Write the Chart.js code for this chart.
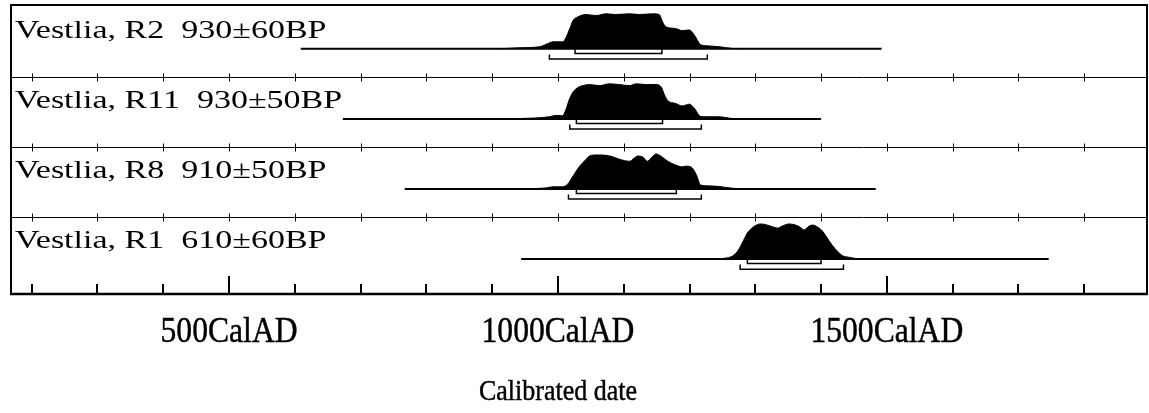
<!DOCTYPE html>
<html>
<head>
<meta charset="utf-8">
<script src="https://cdn.jsdelivr.net/npm/chart.js@4.4.1/dist/chart.umd.min.js"></script>
<style>
  html, body { margin: 0; padding: 0; background: #fff; }
  #wrap { width: 1149px; height: 413px; }
</style>
</head>
<body>
<div id="wrap"><canvas id="chart"></canvas></div>
<script>
// Calibrated radiocarbon dates from Vestlia (years AD)
const sampleNames = ['Vestlia, R2  930±60BP', 'Vestlia, R11  930±50BP', 'Vestlia, R8  910±50BP', 'Vestlia, R1  610±60BP'];

const r2Years = [910, 942, 972, 987, 992, 1007, 1012, 1018, 1023, 1030, 1043, 1058, 1073, 1088, 1109, 1124, 1144, 1154, 1159, 1164, 1179, 1189, 1200, 1207, 1217, 1225, 1245, 1265, 1280];
const r2Prob  = [0, .03, .06, .17, .2, .2, .31, .58, .81, .91, .98, .95, 1, .98, 1, .98, 1, .98, .77, .63, .58, .52, .54, .4, .12, .09, .06, .01, 0];

const r11Years = [910, 942, 987, 997, 1007, 1012, 1017, 1023, 1030, 1038, 1048, 1063, 1078, 1093, 1109, 1119, 1134, 1149, 1157, 1162, 1167, 1179, 1189, 1200, 1207, 1217, 1225, 1245, 1265, 1285];
const r11Prob  = [0, .01, .06, .1, .09, .26, .54, .77, .89, .95, .98, .95, 1, .98, .95, 1, .98, .98, .91, .68, .52, .44, .37, .42, .31, .07, .06, .06, .01, 0];

const r8Years = [942, 982, 992, 1007, 1015, 1023, 1033, 1043, 1048, 1058, 1073, 1081, 1093, 1109, 1116, 1121, 1129, 1136, 1144, 1149, 1157, 1167, 1179, 1189, 1194, 1202, 1210, 1217, 1225, 1245, 1265, 1285];
const r8Prob  = [0, .03, .06, .06, .14, .37, .65, .85, .94, .97, .96, .93, .85, .79, .88, .94, .91, .79, .93, 1, .93, .79, .68, .63, .65, .63, .42, .11, .09, .07, .02, 0];

const r1Years = [1245, 1253, 1265, 1273, 1280, 1288, 1296, 1303, 1308, 1316, 1326, 1334, 1341, 1351, 1361, 1369, 1374, 1382, 1387, 1394, 1402, 1409, 1417, 1425, 1432, 1442, 1455, 1465];
const r1Prob  = [0, .02, .08, .22, .45, .74, .9, .98, 1, .98, .92, .88, .94, 1, .97, .9, .83, .94, .97, .92, .8, .61, .39, .22, .1, .05, .01, 0];

const rangeStart = [609, 673, 767, 944];
const rangeEnd   = [1492, 1400, 1483, 1746];
const sigma1From = [1026, 1028, 1028, 1288];
const sigma1To   = [1158, 1159, 1180, 1400];
const sigma2From = [987, 1018, 1016, 1277];
const sigma2To   = [1227, 1218, 1218, 1434];

const tickYears  = [200, 300, 400, 500, 600, 700, 800, 900, 1000, 1100, 1200, 1300, 1400, 1500, 1600, 1700, 1800];
const labelYears = [500, 1000, 1500];
const axisTitle  = 'Calibrated date';

const allYears = [r2Years, r11Years, r8Years, r1Years];
const allProb  = [r2Prob, r11Prob, r8Prob, r1Prob];

const SERIF = '"Liberation Serif", "Times New Roman", serif';
const PEAK = 0.5;     // height of a full-probability peak, in panel units
const nPanels = sampleNames.length;
const baseOf = k => (nPanels - 1 - k) + 0.4;

const datasets = [];
sampleNames.forEach((name, k) => {
    const b = baseOf(k);
    datasets.push({
        label: name,
        data: allYears[k].map((yr, i) => ({ x: yr, y: b + PEAK * allProb[k][i] })),
        borderColor: '#000',
        backgroundColor: '#000',
        borderWidth: 1,
        pointRadius: 0,
        cubicInterpolationMode: 'monotone',
        fill: { value: b }
    });
    datasets.push({
        data: [{ x: rangeStart[k], y: b }, { x: rangeEnd[k], y: b }],
        borderColor: '#000',
        borderWidth: 2,
        pointRadius: 0
    });
    datasets.push({
        data: [
            { x: sigma1From[k], y: b }, { x: sigma1From[k], y: b - 0.065 },
            { x: sigma1To[k], y: b - 0.065 }, { x: sigma1To[k], y: b }
        ],
        borderColor: '#000',
        borderWidth: 1.5,
        pointRadius: 0
    });
    datasets.push({
        data: [
            { x: sigma2From[k], y: b - 0.08 }, { x: sigma2From[k], y: b - 0.145 },
            { x: sigma2To[k], y: b - 0.145 }, { x: sigma2To[k], y: b - 0.08 }
        ],
        borderColor: '#000',
        borderWidth: 1.5,
        pointRadius: 0
    });
});

// text drawn a little stretched, like the scanned original
function scanText(ctx, str, px, py, sx, sy, weight) {
    ctx.save();
    ctx.translate(px, py);
    ctx.scale(sx, sy);
    ctx.fillText(str, 0, 0);
    if (weight) {
        ctx.lineWidth = weight;
        ctx.strokeText(str, 0, 0);
    }
    ctx.restore();
}

// frame, panel separators with century ticks, sample names and axis labels
const oxcalFrame = {
    id: 'oxcalFrame',
    afterDatasetsDraw(chart) {
        const { ctx, chartArea: a, scales: { x, y } } = chart;
        ctx.save();
        ctx.strokeStyle = '#000';
        ctx.fillStyle = '#000';

        // separators between panels
        ctx.lineWidth = 1;
        for (let s = 1; s < nPanels; s++) {
            const py = Math.round(y.getPixelForValue(s)) + 0.5;
            ctx.beginPath();
            ctx.moveTo(a.left, py);
            ctx.lineTo(a.right, py);
            ctx.stroke();
            tickYears.forEach(t => {
                const px = Math.round(x.getPixelForValue(t)) + 0.5;
                ctx.beginPath();
                ctx.moveTo(px, py - 4);
                ctx.lineTo(px, py + 4);
                ctx.stroke();
            });
        }

        // bottom axis ticks pointing up
        ctx.lineWidth = 2;
        tickYears.forEach(t => {
            const px = Math.round(x.getPixelForValue(t));
            const len = labelYears.includes(t) ? 18 : 10;
            ctx.beginPath();
            ctx.moveTo(px, a.bottom);
            ctx.lineTo(px, a.bottom - len);
            ctx.stroke();
        });

        // frame
        ctx.lineWidth = 2;
        ctx.strokeRect(a.left + 1, a.top + 1, a.right - a.left - 2, a.bottom - a.top - 1);
        ctx.lineWidth = 2.5;
        ctx.beginPath();
        ctx.moveTo(a.left, a.bottom);
        ctx.lineTo(a.right, a.bottom);
        ctx.stroke();

        // sample names
        ctx.font = '25px ' + SERIF;
        ctx.textBaseline = 'alphabetic';
        sampleNames.forEach((name, k) => {
            scanText(ctx, name, a.left + 5, y.getPixelForValue(baseOf(k) + 0.16), 1.36, 1, 0);
        });

        // axis labels and title, the title centred under the 1000 mark
        ctx.textAlign = 'center';
        ctx.font = '31px ' + SERIF;
        labelYears.forEach(v => {
            scanText(ctx, v + 'CalAD', x.getPixelForValue(v), a.bottom + 48, 1.02, 1.14, 0.4);
        });
        ctx.font = '26px ' + SERIF;
        scanText(ctx, axisTitle, x.getPixelForValue(1000), a.bottom + 106, 1, 1.15, 0.4);
        ctx.restore();
    }
};

new Chart(document.getElementById('chart'), {
    type: 'line',
    data: { datasets },
    options: {
        responsive: true,
        maintainAspectRatio: false,
        animation: false,
        layout: { padding: { left: 10, right: 1, top: 4, bottom: 0 } },
        plugins: {
            legend: { display: false },
            tooltip: { enabled: false }
        },
        scales: {
            x: {
                type: 'linear',
                min: 167,
                max: 1897,
                grid: { display: false, drawTicks: false },
                border: { display: false },
                afterFit(scale) { scale.height = 119; },
                ticks: { display: false, stepSize: 100 }
            },
            y: {
                type: 'linear',
                min: -0.1,
                max: 4.04,
                display: false
            }
        }
    },
    plugins: [oxcalFrame]
});
</script>
</body>
</html>
